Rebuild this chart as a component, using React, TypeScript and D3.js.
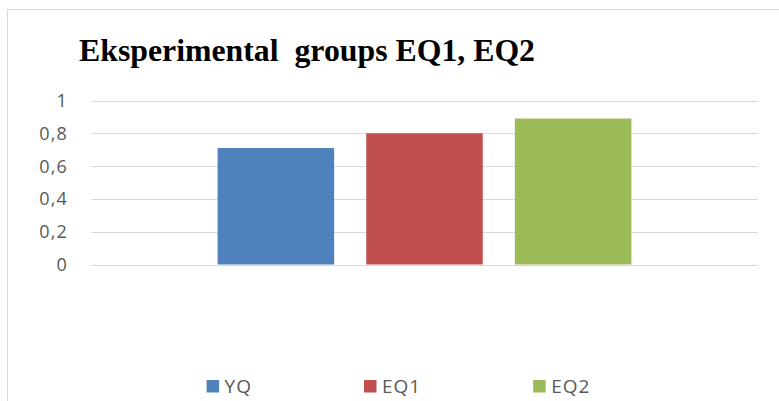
import React, { useEffect, useRef } from "react";
import * as d3 from "d3";

const categories = ["Eksperimental groups"];
const seriesNames = ["YQ", "EQ1", "EQ2"];
const seriesValues = [0.71, 0.8, 0.89];
const seriesColors = ["#4F81BD", "#C0504D", "#9BBB59"];
const yTicks = [0, 0.2, 0.4, 0.6, 0.8, 1];
const yTickLabels = ["0", "0,2", "0,4", "0,6", "0,8", "1"];
const titleText = "Eksperimental  groups EQ1, EQ2";

const W = 779;
const H = 401;

export default function App() {
  const svgRef = useRef<SVGSVGElement | null>(null);

  useEffect(() => {
    if (!svgRef.current) return;
    const svg = d3.select(svgRef.current);
    svg.selectAll("*").remove();

    const plot = { left: 91, right: 758, top: 100.5, bottom: 264.5 };

    // chart frame (runs past the right and bottom edge of the picture)
    svg.append("rect")
      .attr("x", 7.5)
      .attr("y", 9.5)
      .attr("width", 790)
      .attr("height", 400)
      .attr("fill", "#ffffff")
      .attr("stroke", "#d9d9d9")
      .attr("stroke-width", 1);

    svg.append("text")
      .attr("x", 79)
      .attr("y", 61)
      .attr("font-family", "'Liberation Serif', 'Times New Roman', serif")
      .attr("font-weight", "bold")
      .attr("font-size", 32)
      .attr("textLength", 456)
      .attr("lengthAdjust", "spacingAndGlyphs")
      .attr("fill", "#000000")
      .style("white-space", "pre")
      .text(titleText);

    const y = d3.scaleLinear().domain([0, 1]).range([plot.bottom, plot.top]);

    const x0 = d3.scaleBand<string>()
      .domain(categories)
      .range([plot.left, plot.right])
      .paddingInner(0)
      .paddingOuter(0.306);

    const x1 = d3.scaleBand<string>()
      .domain(seriesNames)
      .range([0, x0.bandwidth()])
      .paddingInner(0.216)
      .paddingOuter(0);

    // gridlines
    svg.append("g")
      .selectAll("line")
      .data(yTicks)
      .join("line")
      .attr("x1", plot.left)
      .attr("x2", plot.right)
      .attr("y1", (d) => Math.round(y(d)) + 0.5)
      .attr("y2", (d) => Math.round(y(d)) + 0.5)
      .attr("stroke", "#d9d9d9")
      .attr("stroke-width", 1.2);

    // tick labels
    svg.append("g")
      .selectAll("text")
      .data(yTicks)
      .join("text")
      .attr("x", 68)
      .attr("y", (d) => y(d) + 6.5)
      .attr("text-anchor", "end")
      .attr("font-family", "'Open Sans', sans-serif")
      .attr("font-size", 18)
      .attr("letter-spacing", 1.2)
      .attr("fill", "#595959")
      .text((_, i) => yTickLabels[i]);

    // bars
    const g = svg.append("g").attr("transform", `translate(${x0(categories[0])},0)`);
    g.selectAll("rect")
      .data(seriesValues)
      .join("rect")
      .attr("x", (_, i) => x1(seriesNames[i]) as number)
      .attr("y", (d) => y(d))
      .attr("width", x1.bandwidth())
      .attr("height", (d) => y(0) - y(d))
      .attr("fill", (_, i) => seriesColors[i]);

    // legend, centred under the frame
    const legend = svg.append("g");
    const items = legend.selectAll("g")
      .data(seriesNames)
      .join("g");
    items.append("rect")
      .attr("x", 0)
      .attr("y", 380)
      .attr("width", 12.5)
      .attr("height", 12.5)
      .attr("fill", (_, i) => seriesColors[i]);
    const labels = items.append("text")
      .attr("x", 18)
      .attr("y", 393)
      .attr("font-family", "'Open Sans', sans-serif")
      .attr("font-size", 19)
      .attr("letter-spacing", 1)
      .attr("fill", "#595959")
      .text((d) => d);

    const gap = 112;
    let cursor = 0;
    const offsets: number[] = [];
    labels.each(function () {
      offsets.push(cursor);
      cursor += 18 + (this as SVGTextElement).getComputedTextLength() + gap;
    });
    const total = cursor - gap;
    const start = (7 + 790) / 2 - total / 2;
    items.attr("transform", (_, i) => `translate(${start + offsets[i]},0)`);
  }, []);

  return (
    <div style={{ position: "fixed", left: 0, top: 0, width: W, height: H, background: "#ffffff" }}>
      <svg ref={svgRef} width={W} height={H} style={{ display: "block" }} />
    </div>
  );
}
